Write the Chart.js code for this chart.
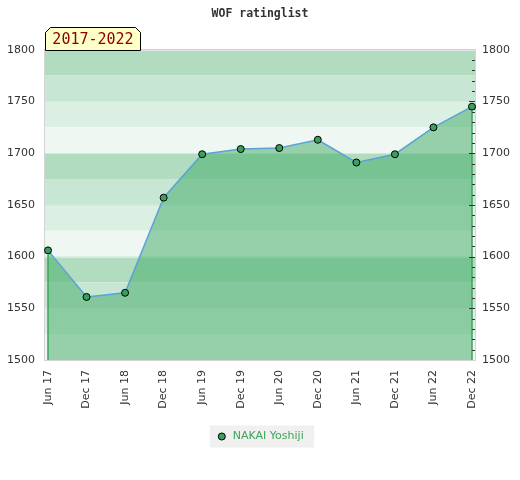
<!DOCTYPE html>
<html>
<head>
<meta charset="utf-8">
<script src="https://cdn.jsdelivr.net/npm/chart.js@4.4.1/dist/chart.umd.min.js"></script>
<style>
    html, body { margin: 0; padding: 0; background: #fff; }
</style>
</head>
<body>
<canvas id="ratingChart" width="520" height="480"></canvas>
<script>
const periods = ['Jun 17', 'Dec 17', 'Jun 18', 'Dec 18', 'Jun 19', 'Dec 19',
                 'Jun 20', 'Dec 20', 'Jun 21', 'Dec 21', 'Jun 22', 'Dec 22'];
const ratings = [1606, 1561, 1565, 1657, 1699, 1704, 1705, 1713, 1691, 1699, 1725, 1745];
const playerName = 'NAKAI Yoshiji';
const rangeLabel = '2017-2022';
const chartTitle = 'WOF ratinglist';
const yMin = 1500;
const yMax = 1800;

const bandShades = ['#b2dcc0', '#c8e6d4', '#dcefe3', '#eef7f1'];
const edge = 3; // plot frame sticks out a little past the first/last point

// background stripes every 25 points + legend backdrop
const backdrop = {
    id: 'backdrop',
    beforeDraw(chart) {
        const { ctx, chartArea, scales } = chart;
        const y = scales.y;
        const left = chartArea.left - edge;
        const width = chartArea.right - chartArea.left + edge * 2;
        ctx.save();
        let i = 0;
        for (let v = yMax; v > yMin; v -= 25) {
            const top = y.getPixelForValue(v);
            const bottom = y.getPixelForValue(v - 25);
            ctx.fillStyle = bandShades[i % 4];
            ctx.fillRect(left, top, width, bottom - top);
            i++;
        }
        ctx.strokeStyle = '#e2e2e2';
        ctx.lineWidth = 1;
        for (let v = yMin; v <= yMax; v += 50) {
            const py = Math.round(y.getPixelForValue(v)) + 0.5;
            ctx.beginPath();
            ctx.moveTo(left, py);
            ctx.lineTo(left + width, py);
            ctx.stroke();
        }
        ctx.strokeStyle = '#d4d4d4';
        ctx.strokeRect(Math.round(left) - 0.5, Math.round(chartArea.top) - 0.5,
                       Math.round(width) + 1, Math.round(chartArea.bottom - chartArea.top) + 1);

        const boxes = chart.legend && chart.legend.legendHitBoxes;
        if (boxes && boxes.length) {
            const hb = boxes[0];
            ctx.fillStyle = '#f0f0f0';
            ctx.fillRect(hb.left - 6.5, hb.top - 5.5, hb.width + 17, hb.height + 11);
        }
        ctx.restore();
    }
};

// green drop lines at both ends, minor ticks on right axis, period tag
const extras = {
    id: 'extras',
    afterDatasetsDraw(chart) {
        const { ctx, chartArea } = chart;
        const pts = chart.getDatasetMeta(0).data;
        ctx.save();
        ctx.strokeStyle = '#3aa55a';
        ctx.lineWidth = 1.5;
        [pts[0], pts[pts.length - 1]].forEach(p => {
            ctx.beginPath();
            ctx.moveTo(p.x, p.y + 4);
            ctx.lineTo(p.x, chartArea.bottom);
            ctx.stroke();
        });
        ctx.restore();
    },
    afterDraw(chart) {
        const { ctx, chartArea, scales } = chart;
        const y2 = scales.y2;
        const right = chartArea.right + edge;
        ctx.save();
        ctx.strokeStyle = '#333';
        ctx.lineWidth = 1;
        for (let v = yMin + 10; v < yMax; v += 10) {
            const py = Math.round(y2.getPixelForValue(v)) + 0.5;
            const len = v % 50 === 0 ? 6 : 3;
            ctx.beginPath();
            ctx.moveTo(right - len, py);
            ctx.lineTo(right, py);
            ctx.stroke();
        }

        // tag box with clipped top corners
        const l = Math.round(chartArea.left - edge) + 0.5, r = l + 95;
        const t = Math.round(chartArea.top) - 22.5, b = Math.round(chartArea.top) + 0.5;
        const c = 5;
        ctx.beginPath();
        ctx.moveTo(l, b);
        ctx.lineTo(l, t + c);
        ctx.lineTo(l + c, t);
        ctx.lineTo(r - c, t);
        ctx.lineTo(r, t + c);
        ctx.lineTo(r, b);
        ctx.closePath();
        ctx.fillStyle = '#ffffc8';
        ctx.fill();
        ctx.strokeStyle = '#000';
        ctx.stroke();
        ctx.fillStyle = '#8b0000';
        ctx.font = '15px "DejaVu Sans Mono"';
        ctx.textAlign = 'center';
        ctx.textBaseline = 'middle';
        ctx.fillText(rangeLabel, (l + r) / 2, (t + b) / 2 + 1);
        ctx.restore();
    }
};

const axisFont = { family: 'DejaVu Sans', size: 11 };
const plain = v => String(v);

new Chart(document.getElementById('ratingChart'), {
    type: 'line',
    data: {
        labels: periods,
        datasets: [{
            label: playerName,
            data: ratings,
            borderColor: '#5aa2d8',
            borderWidth: 1.5,
            fill: 'start',
            backgroundColor: 'rgba(60, 170, 100, 0.5)',
            tension: 0,
            pointRadius: 3.5,
            pointBackgroundColor: '#3a9f5a',
            pointBorderColor: '#000',
            pointBorderWidth: 1
        }]
    },
    options: {
        responsive: false,
        animation: false,
        layout: { padding: { left: 0, right: 0, top: 0, bottom: 28 } },
        plugins: {
            title: {
                display: true,
                text: chartTitle,
                color: '#333',
                font: { family: 'DejaVu Sans Mono', size: 11.5, weight: 'bold' },
                padding: { top: 7, bottom: 29 }
            },
            legend: {
                position: 'bottom',
                labels: {
                    usePointStyle: true,
                    pointStyle: 'circle',
                    boxWidth: 11,
                    boxHeight: 5,
                    color: '#3aa55a',
                    font: axisFont,
                    padding: 10,
                    generateLabels() {
                        return [{
                            text: playerName,
                            fillStyle: '#3a9f5a',
                            strokeStyle: '#000',
                            lineWidth: 1,
                            pointStyle: 'circle',
                            fontColor: '#3aa55a',
                            datasetIndex: 0
                        }];
                    }
                }
            },
            tooltip: { enabled: false }
        },
        scales: {
            x: {
                grid: { display: false, drawTicks: false },
                border: { display: false },
                ticks: {
                    color: '#333',
                    font: axisFont,
                    maxRotation: 90,
                    minRotation: 90,
                    padding: 10,
                    autoSkip: false
                },
                afterFit(s) { s.height = 61; }
            },
            y: {
                position: 'left',
                min: yMin,
                max: yMax,
                grid: { display: false, drawTicks: false },
                border: { display: false },
                ticks: { stepSize: 50, color: '#333', font: axisFont, padding: 13, callback: plain },
                afterFit(s) { s.width = 48; }
            },
            y2: {
                position: 'right',
                min: yMin,
                max: yMax,
                grid: { display: false, drawTicks: false },
                border: { display: false },
                ticks: { stepSize: 50, color: '#333', font: axisFont, padding: 10, callback: plain },
                afterFit(s) { s.width = 48; }
            }
        }
    },
    plugins: [backdrop, extras]
});
</script>
</body>
</html>
